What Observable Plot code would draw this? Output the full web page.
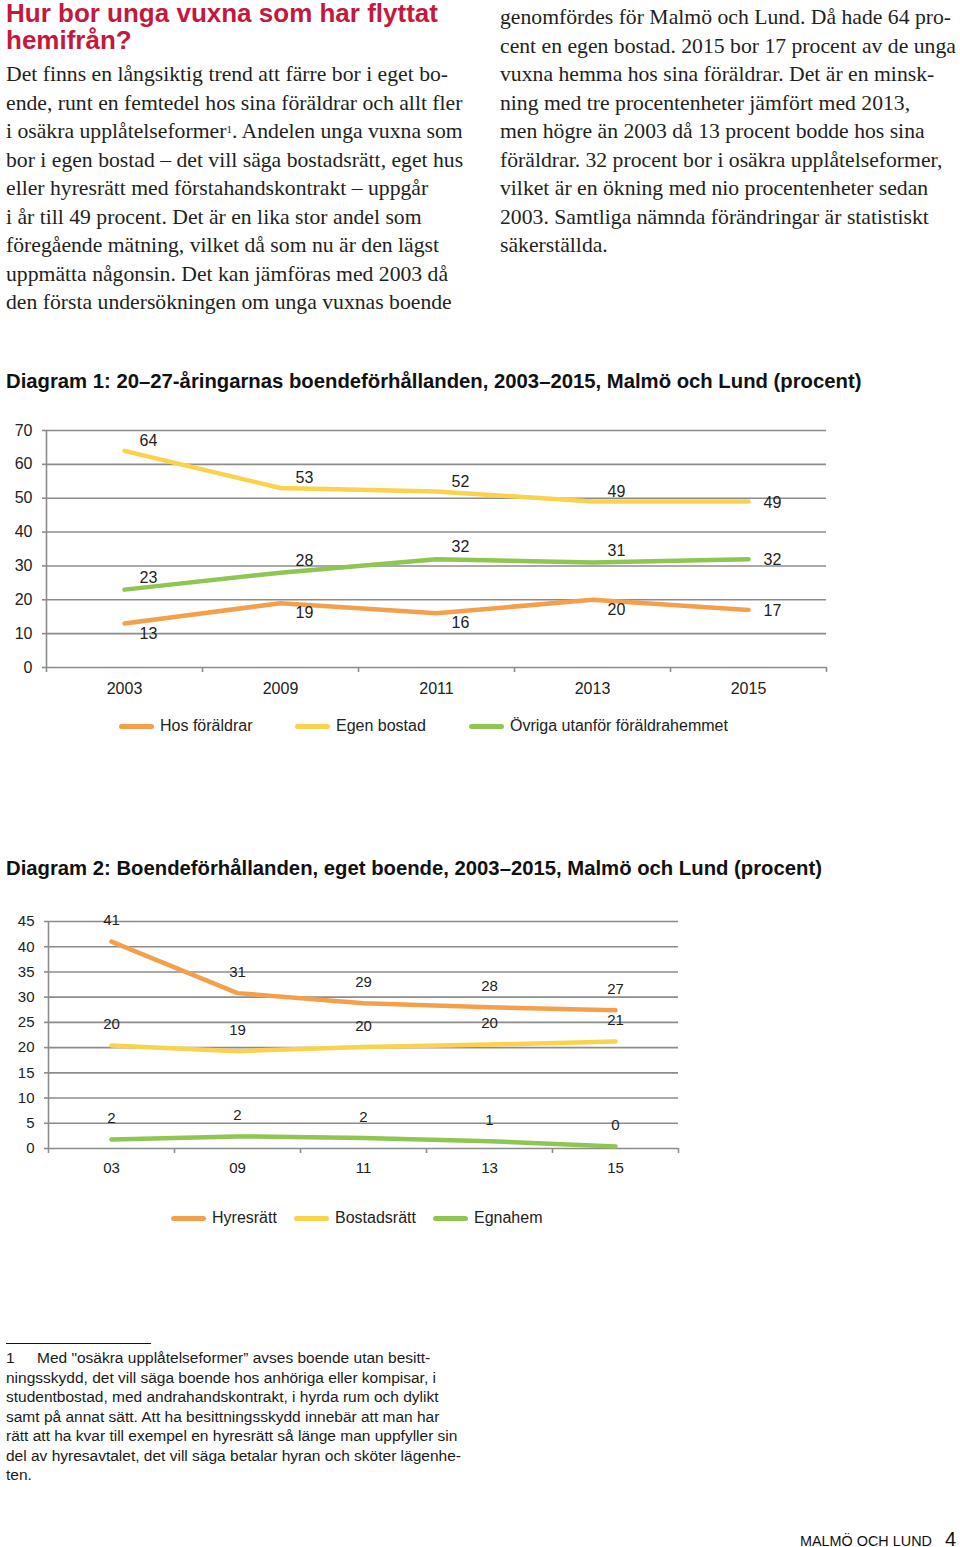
<!DOCTYPE html>
<html><head><meta charset="utf-8">
<script src="https://cdn.jsdelivr.net/npm/d3@7"></script>
<script src="https://cdn.jsdelivr.net/npm/@observablehq/plot@0.6"></script>
<style>
html,body{margin:0;padding:0;background:#fff}
body{width:960px;height:1547px;position:relative;overflow:hidden;font-family:"Liberation Sans",Arial,sans-serif;color:#1a1a1a}
.abs{position:absolute;white-space:nowrap}
.title{left:6px;top:0px;font-size:26px;font-weight:bold;color:#c4183c;line-height:27px}
.body{font-family:"Liberation Serif","Times New Roman",serif;font-size:21.7px;line-height:28.5px;color:#231f20;transform-origin:0 0}
.body sup{font-size:11px;vertical-align:top;position:relative;top:-2px}
.dtitle{left:6px;font-size:20.3px;font-weight:bold;color:#111;line-height:22px}
.chart{position:absolute;left:0}
.leg{position:absolute;font-size:16px;color:#222;line-height:20px}
.sw{position:absolute;height:5px;border-radius:3px}
.fn{left:6px;top:1348px;font-size:15.5px;line-height:19.5px;color:#1a1a1a}
.fn .num{display:inline-block;width:31px}
.rule{position:absolute;left:6px;top:1343px;width:145px;height:1px;background:#111}
</style>
</head><body>
<div class="abs title">Hur bor unga vuxna som har flyttat<br>hemifrån?</div>
<div id="colL" class="abs body" style="left:6px;top:60px">
Det finns en långsiktig trend att färre bor i eget bo-<br>
ende, runt en femtedel hos sina föräldrar och allt fler<br>
i osäkra upplåtelseformer<sup>1</sup>. Andelen unga vuxna som<br>
bor i egen bostad – det vill säga bostadsrätt, eget hus<br>
eller hyresrätt med förstahandskontrakt – uppgår<br>
i år till 49 procent. Det är en lika stor andel som<br>
föregående mätning, vilket då som nu är den lägst<br>
uppmätta någonsin. Det kan jämföras med 2003 då<br>
den första undersökningen om unga vuxnas boende
</div>
<div id="colR" class="abs body" style="left:500px;top:3px">
genomfördes för Malmö och Lund. Då hade 64 pro-<br>
cent en egen bostad. 2015 bor 17 procent av de unga<br>
vuxna hemma hos sina föräldrar. Det är en minsk-<br>
ning med tre procentenheter jämfört med 2013,<br>
men högre än 2003 då 13 procent bodde hos sina<br>
föräldrar. 32 procent bor i osäkra upplåtelseformer,<br>
vilket är en ökning med nio procentenheter sedan<br>
2003. Samtliga nämnda förändringar är statistiskt<br>
säkerställda.
</div>

<div class="abs dtitle" style="top:370px">Diagram 1: 20–27-åringarnas boendeförhållanden, 2003–2015, Malmö och Lund (procent)</div>
<div id="chart1" class="chart" style="top:415px"></div>
<div id="leg1"></div>

<div class="abs dtitle" style="top:857px">Diagram 2: Boendeförhållanden, eget boende, 2003–2015, Malmö och Lund (procent)</div>
<div id="chart2" class="chart" style="top:905px"></div>
<div id="leg2"></div>

<div class="rule"></div>
<div class="abs fn"><span class="num">1</span>Med "osäkra upplåtelseformer” avses boende utan besitt-<br>
ningsskydd, det vill säga boende hos anhöriga eller kompisar, i<br>
studentbostad, med andrahandskontrakt, i hyrda rum och dylikt<br>
samt på annat sätt. Att ha besittningsskydd innebär att man har<br>
rätt att ha kvar till exempel en hyresrätt så länge man uppfyller sin<br>
del av hyresavtalet, det vill säga betalar hyran och sköter lägenhe-<br>
ten.</div>

<div class="abs" style="left:800px;top:1532px;font-size:14.4px;line-height:18px;color:#111">MALMÖ OCH LUND</div>
<div class="abs" style="left:945px;top:1527px;font-size:20px;line-height:24px;color:#111">4</div>

<script>
// ---------- Data ----------
const years1 = ["2003", "2009", "2011", "2013", "2015"];
const series1 = ["Hos föräldrar", "Egen bostad", "Övriga utanför föräldrahemmet"];
const hosForaldrar = [13, 19, 16, 20, 17];
const egenBostad = [64, 53, 52, 49, 49];
const ovriga = [23, 28, 32, 31, 32];
const yTicks1 = [0, 10, 20, 30, 40, 50, 60, 70];

const years2 = ["03", "09", "11", "13", "15"];
const series2 = ["Hyresrätt", "Bostadsrätt", "Egnahem"];
const hyresratt = [41, 30.8, 28.8, 28, 27.4];
const hyresrattLabels = ["41", "31", "29", "28", "27"];
const bostadsratt = [20.4, 19.3, 20.1, 20.6, 21.2];
const bostadsrattLabels = ["20", "19", "20", "20", "21"];
const egnahem = [1.8, 2.4, 2.1, 1.45, 0.4];
const egnahemLabels = ["2", "2", "2", "1", "0"];
const yTicks2 = [0, 5, 10, 15, 20, 25, 30, 35, 40, 45];

const ORANGE = "#f4a04b", YELLOW = "#fbd24c", GREEN = "#8fc651", GRID = "#8c8c8c", INK = "#222";

function rowsOf(name, vals, labels) {
  return vals.map((v, i) => ({i, series: name, value: v, label: labels ? labels[i] : String(v), last: i === vals.length - 1}));
}
const boundaries = n => d3.range(n + 1).map(k => k - 0.5);

// ---------- Chart 1 ----------
const r1o = rowsOf(series1[0], hosForaldrar);
const r1y = rowsOf(series1[1], egenBostad);
const r1g = rowsOf(series1[2], ovriga);
const rows1 = [...r1o, ...r1y, ...r1g];
const n1 = years1.length;
const txt = {fontSize: 16, fill: INK};

const chart1 = Plot.plot({
  width: 840, height: 290,
  marginLeft: 46, marginRight: 14, marginTop: 15, marginBottom: 38,
  style: {fontFamily: "Liberation Sans, Arial, sans-serif", fontSize: "16px", color: INK, background: "transparent", overflow: "visible"},
  x: {domain: [-0.5, n1 - 0.5]},
  y: {domain: [0, 70]},
  color: {domain: series1, range: [ORANGE, YELLOW, GREEN]},
  marks: [
    Plot.gridY(yTicks1, {stroke: GRID, strokeOpacity: 1, strokeWidth: 1.6}),
    Plot.axisY(yTicks1, {tickSize: 4, tickPadding: 10, stroke: GRID, strokeWidth: 1.6, label: null, fontSize: 16, fill: INK}),
    Plot.ruleX([-0.5], {stroke: GRID, strokeWidth: 1.6}),
    Plot.axisX(boundaries(n1), {tickSize: 5, stroke: GRID, strokeWidth: 1.6, tickFormat: () => "", label: null}),
    Plot.axisX(d3.range(n1), {tickSize: 0, tickPadding: 15, tickFormat: i => years1[i], label: null, fontSize: 16, fill: INK}),
    Plot.line(rows1, {x: "i", y: "value", z: "series", stroke: "series", strokeWidth: 4.5, strokeLinecap: "round", strokeLinejoin: "round"}),
    Plot.text(r1y.filter(d => !d.last), {x: "i", y: "value", text: "label", dx: 24, dy: -10, ...txt}),
    Plot.text(r1g.filter(d => !d.last), {x: "i", y: "value", text: "label", dx: 24, dy: -12, ...txt}),
    Plot.text(r1o.filter(d => !d.last), {x: "i", y: "value", text: "label", dx: 24, dy: 10, ...txt}),
    Plot.text(rows1.filter(d => d.last), {x: "i", y: "value", text: "label", dx: 15, dy: 1, textAnchor: "start", ...txt})
  ]
});
document.getElementById("chart1").appendChild(chart1);

// ---------- Chart 2 ----------
const r2o = rowsOf(series2[0], hyresratt, hyresrattLabels);
const r2y = rowsOf(series2[1], bostadsratt, bostadsrattLabels);
const r2g = rowsOf(series2[2], egnahem, egnahemLabels);
const rows2 = [...r2o, ...r2y, ...r2g];
const n2 = years2.length;

const chart2 = Plot.plot({
  width: 700, height: 280,
  marginLeft: 48, marginRight: 22, marginTop: 16, marginBottom: 37,
  style: {fontFamily: "Liberation Sans, Arial, sans-serif", fontSize: "15px", color: INK, background: "transparent", overflow: "visible"},
  x: {domain: [-0.5, n2 - 0.5]},
  y: {domain: [0, 45]},
  color: {domain: series2, range: [ORANGE, YELLOW, GREEN]},
  marks: [
    Plot.gridY(yTicks2, {stroke: GRID, strokeOpacity: 1, strokeWidth: 1.6}),
    Plot.axisY(yTicks2, {tickSize: 4, tickPadding: 10, stroke: GRID, strokeWidth: 1.6, label: null, fontSize: 15, fill: INK}),
    Plot.ruleX([-0.5], {stroke: GRID, strokeWidth: 1.6}),
    Plot.axisX(boundaries(n2), {tickSize: 5, stroke: GRID, strokeWidth: 1.6, tickFormat: () => "", label: null}),
    Plot.axisX(d3.range(n2), {tickSize: 0, tickPadding: 14, tickFormat: i => years2[i], label: null, fontSize: 15, fill: INK}),
    Plot.line(rows2, {x: "i", y: "value", z: "series", stroke: "series", strokeWidth: 4.5, strokeLinecap: "round", strokeLinejoin: "round"}),
    Plot.text(rows2, {x: "i", y: "value", text: "label", dy: -21, fontSize: 15, fill: INK})
  ]
});
document.getElementById("chart2").appendChild(chart2);

// ---------- Legends (HTML) ----------
function legend(el, names, colors, top, xs) {
  const box = document.getElementById(el);
  names.forEach((name, k) => {
    const sw = document.createElement("div");
    sw.className = "sw";
    sw.style.cssText = `left:${xs[k]}px;top:${top - 2.5}px;width:35px;background:${colors[k]}`;
    const t = document.createElement("div");
    t.className = "leg";
    t.style.cssText = `left:${xs[k] + 41}px;top:${top - 10}px`;
    t.textContent = name;
    box.appendChild(sw); box.appendChild(t);
  });
}
legend("leg1", series1, [ORANGE, YELLOW, GREEN], 726, [119, 295, 469]);
legend("leg2", series2, [ORANGE, YELLOW, GREEN], 1218, [171, 294, 433]);
</script>
</body></html>
